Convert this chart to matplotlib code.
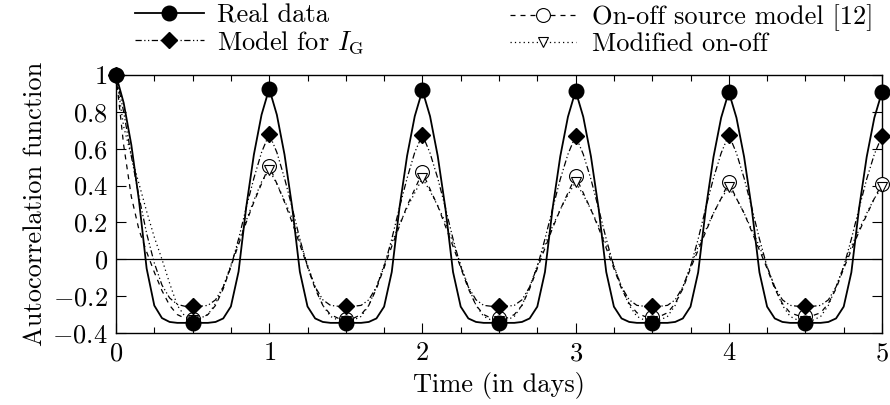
import numpy as np
import matplotlib
matplotlib.use('Agg')
import matplotlib.pyplot as plt

# Fuente tipo LaTeX (Computer Modern)
plt.rcParams['font.family'] = 'serif'
plt.rcParams['font.serif'] = ['cmr10']
plt.rcParams['mathtext.fontset'] = 'cm'
plt.rcParams['axes.formatter.use_mathtext'] = True

# Eje de tiempo (días), muestreado cada 0.05 días
tiempo = np.round(np.arange(101) * 0.05, 2)

# Datos reales
real_data = [
    1.0, 0.849, 0.621, 0.319, -0.050, -0.251, -0.319, -0.340, -0.345, -0.345,
    -0.345, -0.345, -0.345, -0.340, -0.321, -0.256, -0.067, 0.283, 0.568, 0.784,
    0.926, 0.784, 0.568, 0.283, -0.067, -0.256, -0.321, -0.340, -0.345, -0.345,
    -0.345, -0.345, -0.345, -0.340, -0.321, -0.257, -0.069, 0.278, 0.561, 0.776,
    0.917, 0.776, 0.561, 0.278, -0.069, -0.257, -0.321, -0.340, -0.345, -0.345,
    -0.345, -0.345, -0.345, -0.340, -0.321, -0.257, -0.069, 0.277, 0.559, 0.773,
    0.914, 0.773, 0.559, 0.277, -0.069, -0.257, -0.321, -0.340, -0.345, -0.345,
    -0.345, -0.345, -0.345, -0.340, -0.321, -0.257, -0.071, 0.274, 0.555, 0.768,
    0.908, 0.768, 0.555, 0.274, -0.071, -0.257, -0.321, -0.340, -0.345, -0.345,
    -0.345, -0.345, -0.345, -0.340, -0.321, -0.257, -0.071, 0.274, 0.555, 0.768,
    0.908,
]

# Modelo para I_G
model_ig = [
    1.0, 0.80, 0.56, 0.34, 0.14, -0.02, -0.14, -0.21, -0.245, -0.255,
    -0.255, -0.255, -0.25, -0.22, -0.15, -0.04, 0.11, 0.28, 0.44, 0.58,
    0.68, 0.58, 0.44, 0.28, 0.11, -0.04, -0.15, -0.22, -0.25, -0.255,
    -0.255, -0.255, -0.25, -0.22, -0.15, -0.04, 0.11, 0.28, 0.44, 0.58,
    0.676, 0.576, 0.44, 0.28, 0.11, -0.04, -0.15, -0.22, -0.25, -0.255,
    -0.255, -0.255, -0.25, -0.22, -0.15, -0.04, 0.11, 0.275, 0.435, 0.57,
    0.670, 0.57, 0.435, 0.275, 0.11, -0.04, -0.15, -0.22, -0.25, -0.255,
    -0.255, -0.255, -0.25, -0.22, -0.15, -0.04, 0.11, 0.28, 0.44, 0.576,
    0.676, 0.576, 0.44, 0.28, 0.11, -0.04, -0.15, -0.22, -0.25, -0.255,
    -0.255, -0.255, -0.25, -0.22, -0.15, -0.04, 0.11, 0.275, 0.435, 0.57,
    0.669,
]

# Modelo de fuente on-off [12]
on_off = [
    1.0, 0.62, 0.34, 0.16, 0.04, -0.07, -0.17, -0.25, -0.30, -0.32,
    -0.325, -0.32, -0.30, -0.25, -0.16, -0.04, 0.08, 0.20, 0.31, 0.41,
    0.508, 0.41, 0.31, 0.20, 0.08, -0.04, -0.16, -0.25, -0.30, -0.32,
    -0.325, -0.32, -0.30, -0.25, -0.16, -0.045, 0.07, 0.18, 0.29, 0.38,
    0.472, 0.38, 0.29, 0.18, 0.07, -0.045, -0.16, -0.25, -0.30, -0.32,
    -0.32, -0.32, -0.30, -0.25, -0.16, -0.05, 0.06, 0.17, 0.27, 0.36,
    0.45, 0.36, 0.27, 0.17, 0.06, -0.05, -0.16, -0.24, -0.29, -0.31,
    -0.315, -0.31, -0.29, -0.24, -0.16, -0.05, 0.05, 0.15, 0.25, 0.33,
    0.418, 0.33, 0.25, 0.15, 0.05, -0.05, -0.16, -0.24, -0.29, -0.305,
    -0.31, -0.305, -0.29, -0.24, -0.16, -0.05, 0.05, 0.15, 0.24, 0.33,
    0.41,
]

# On-off modificado
modified = [
    1.0, 0.72, 0.56, 0.41, 0.26, 0.12, 0.0, -0.13, -0.25, -0.31,
    -0.33, -0.32, -0.30, -0.24, -0.15, -0.03, 0.09, 0.21, 0.32, 0.42,
    0.485, 0.41, 0.32, 0.22, 0.10, -0.03, -0.15, -0.25, -0.31, -0.33,
    -0.335, -0.33, -0.31, -0.25, -0.15, -0.03, 0.09, 0.19, 0.28, 0.36,
    0.44, 0.37, 0.29, 0.20, 0.09, -0.03, -0.15, -0.25, -0.31, -0.33,
    -0.335, -0.33, -0.31, -0.25, -0.15, -0.035, 0.08, 0.18, 0.27, 0.35,
    0.418, 0.35, 0.27, 0.18, 0.08, -0.035, -0.15, -0.25, -0.31, -0.33,
    -0.335, -0.33, -0.31, -0.25, -0.15, -0.04, 0.07, 0.16, 0.25, 0.33,
    0.39, 0.33, 0.25, 0.16, 0.07, -0.04, -0.15, -0.25, -0.31, -0.33,
    -0.335, -0.33, -0.31, -0.25, -0.15, -0.04, 0.07, 0.16, 0.25, 0.33,
    0.39,
]

x_ticks = [0, 1, 2, 3, 4, 5]
x_tick_labels = ['$0$', '$1$', '$2$', '$3$', '$4$', '$5$']
y_ticks = [-0.4, -0.2, 0, 0.2, 0.4, 0.6, 0.8, 1]
y_tick_labels = ['$-0.4$', '$-0.2$', '$0$', '$0.2$', '$0.4$', '$0.6$', '$0.8$', '$1$']

fs = 19

fig = plt.figure(figsize=(8.9, 4.05), dpi=100)
ax = fig.add_axes([116 / 890, 1 - 333 / 405, 766 / 890, 258 / 405])

# Línea del cero
ax.axhline(0, color='black', lw=0.9, zorder=1)

# Curvas (marcadores cada medio día)
l_on, = ax.plot(tiempo, on_off, color='black', lw=0.9, dashes=(4, 4),
                marker='o', ms=10, mfc='white', mec='black', mew=0.8,
                markevery=10, clip_on=False, zorder=3)
l_mod, = ax.plot(tiempo, modified, color='black', lw=0.9, dashes=(1, 2.5),
                 marker='v', ms=7, mfc='white', mec='black', mew=0.8,
                 markevery=10, clip_on=False, zorder=4)
l_ig, = ax.plot(tiempo, model_ig, color='black', lw=0.9, dashes=(5, 2, 1, 2, 1, 2),
                marker='D', ms=8, mfc='black', mec='black',
                markevery=10, clip_on=False, zorder=5)
l_real, = ax.plot(tiempo, real_data, color='black', lw=1.3, ls='-',
                  marker='o', ms=10.5, mfc='black', mec='black',
                  markevery=10, clip_on=False, zorder=6)

ax.set_xlim(0, 5)
ax.set_ylim(-0.4, 1)
ax.set_xticks(x_ticks)
ax.set_xticklabels(x_tick_labels)
ax.set_xticks(np.arange(0, 5.01, 0.25), minor=True)
ax.set_yticks(y_ticks)
ax.set_yticklabels(y_tick_labels)
ax.tick_params(axis='both', which='major', direction='in', top=True, right=True,
               length=7, width=0.8, labelsize=fs, pad=6)
ax.tick_params(axis='x', which='minor', direction='in', top=True, bottom=True,
               length=4, width=0.8)
for s in ax.spines.values():
    s.set_linewidth(1.0)

ax.set_xlabel('Time (in days)', fontsize=fs, labelpad=5)
ax.set_ylabel('Autocorrelation function', fontsize=fs, labelpad=4)

# Leyenda en dos columnas sobre el gráfico
leg1 = fig.legend([l_real, l_ig], ['Real data', r'Model for $I_\mathrm{G}$'],
                  loc='upper left', bbox_to_anchor=(135 / 890, 1 - 4 / 405),
                  frameon=False, fontsize=fs, handlelength=2.6, handletextpad=0.5,
                  borderpad=0, borderaxespad=0, labelspacing=0.05, numpoints=1)
leg2 = fig.legend([l_on, l_mod], ['On-off source model [12]', 'Modified on-off'],
                  loc='upper left', bbox_to_anchor=(510 / 890, 1 - 4 / 405),
                  frameon=False, fontsize=fs, handlelength=2.5, handletextpad=0.6,
                  borderpad=0, borderaxespad=0, labelspacing=0.05, numpoints=1)

plt.savefig('out.png', dpi=100)
